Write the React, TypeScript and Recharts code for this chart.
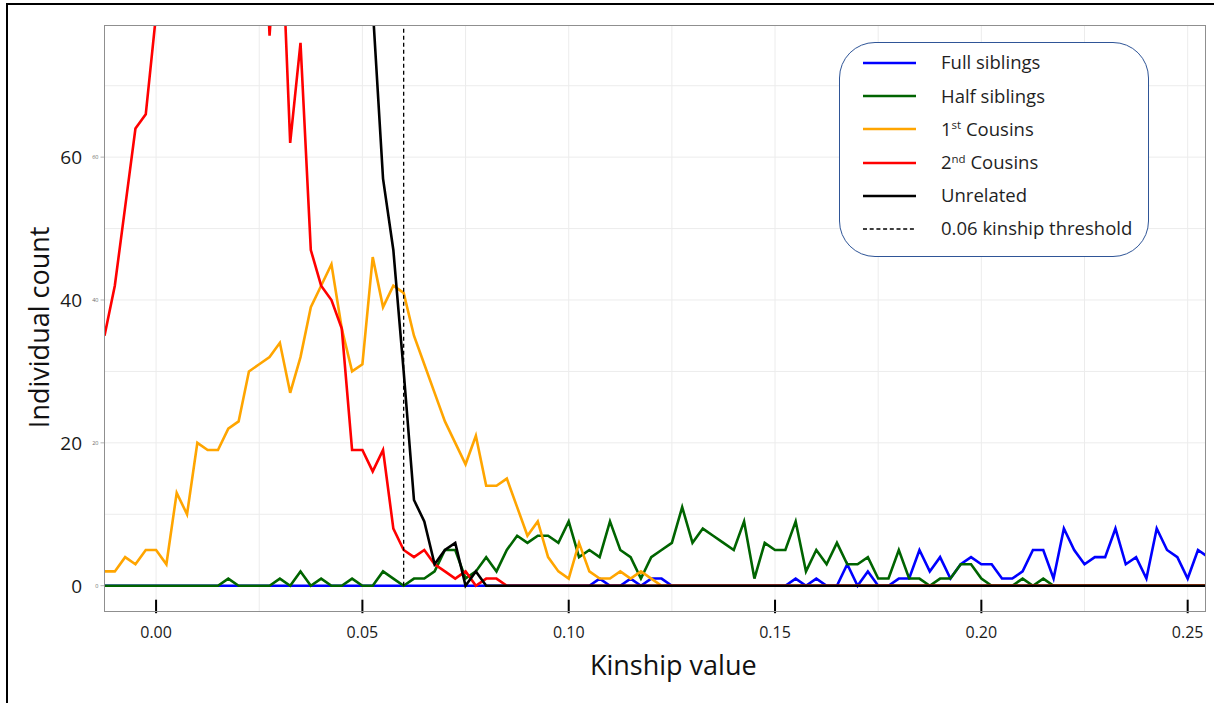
import React from 'react';
import { LineChart, Line, XAxis, YAxis, CartesianGrid, ReferenceLine, Legend } from 'recharts';

// Kinship bin centres
const kinship = [
  -0.0125, -0.01, -0.0075, -0.005, -0.0025, 0, 0.0025, 0.005, 0.0075, 0.01,
  0.0125, 0.015, 0.0175, 0.02, 0.0225, 0.025, 0.0275, 0.03, 0.0325, 0.035,
  0.0375, 0.04, 0.0425, 0.045, 0.0475, 0.05, 0.0525, 0.055, 0.0575, 0.06,
  0.0625, 0.065, 0.0675, 0.07, 0.0725, 0.075, 0.0775, 0.08, 0.0825, 0.085,
  0.0875, 0.09, 0.0925, 0.095, 0.0975, 0.1, 0.1025, 0.105, 0.1075, 0.11,
  0.1125, 0.115, 0.1175, 0.12, 0.1225, 0.125, 0.1275, 0.13, 0.1325, 0.135,
  0.1375, 0.14, 0.1425, 0.145, 0.1475, 0.15, 0.1525, 0.155, 0.1575, 0.16,
  0.1625, 0.165, 0.1675, 0.17, 0.1725, 0.175, 0.1775, 0.18, 0.1825, 0.185,
  0.1875, 0.19, 0.1925, 0.195, 0.1975, 0.2, 0.2025, 0.205, 0.2075, 0.21,
  0.2125, 0.215, 0.2175, 0.22, 0.2225, 0.225, 0.2275, 0.23, 0.2325, 0.235,
  0.2375, 0.24, 0.2425, 0.245, 0.2475, 0.25, 0.2525, 0.255,
];

const fullSiblings = [
  0, 0, 0, 0, 0, 0, 0, 0, 0, 0,
  0, 0, 0, 0, 0, 0, 0, 0, 0, 0,
  0, 0, 0, 0, 0, 0, 0, 0, 0, 0,
  0, 0, 0, 0, 0, 0, 0, 0, 0, 0,
  0, 0, 0, 0, 0, 0, 0, 0, 1, 0,
  0, 1, 0, 1, 1, 0, 0, 0, 0, 0,
  0, 0, 0, 0, 0, 0, 0, 1, 0, 1,
  0, 0, 3, 0, 2, 0, 0, 1, 1, 5,
  2, 4, 1, 3, 4, 3, 3, 1, 1, 2,
  5, 5, 1, 8, 5, 3, 4, 4, 8, 3,
  4, 1, 8, 5, 4, 1, 5, 4,
];

const halfSiblings = [
  0, 0, 0, 0, 0, 0, 0, 0, 0, 0,
  0, 0, 1, 0, 0, 0, 0, 1, 0, 2,
  0, 1, 0, 0, 1, 0, 0, 2, 1, 0,
  1, 1, 2, 5, 5, 1, 2, 4, 2, 5,
  7, 6, 7, 7, 6, 9, 4, 5, 4, 9,
  5, 4, 1, 4, 5, 6, 11, 6, 8, 7,
  6, 5, 9, 1, 6, 5, 5, 9, 2, 5,
  3, 6, 3, 3, 4, 1, 1, 5, 1, 1,
  0, 1, 1, 3, 3, 1, 0, 0, 0, 1,
  0, 1, 0, 0, 0, 0, 0, 0, 0, 0,
  0, 0, 0, 0, 0, 0, 0, 0,
];

const firstCousins = [
  2, 2, 4, 3, 5, 5, 3, 13, 10, 20,
  19, 19, 22, 23, 30, 31, 32, 34, 27, 32,
  39, 42, 45, 36, 30, 31, 46, 39, 42, 41,
  35, 31, 27, 23, 20, 17, 21, 14, 14, 15,
  11, 7, 9, 4, 2, 1, 6, 2, 1, 1,
  2, 1, 2, 1, 0, 0, 0, 0, 0, 0,
  0, 0, 0, 0, 0, 0, 0, 0, 0, 0,
  0, 0, 0, 0, 0, 0, 0, 0, 0, 0,
  0, 0, 0, 0, 0, 0, 0, 0, 0, 0,
  0, 0, 0, 0, 0, 0, 0, 0, 0, 0,
  0, 0, 0, 0, 0, 0, 0, 0,
];

const secondCousins = [
  35, 42, 53, 64, 66, 80, 95, 112, 128, 140,
  146, 143, 135, 122, 108, 110, 77, 98, 62, 76,
  47, 42, 40, 36, 19, 19, 16, 19, 8, 5,
  4, 5, 3, 2, 1, 2, 0, 1, 1, 0,
  0, 0, 0, 0, 0, 0, 0, 0, 0, 0,
  0, 0, 0, 0, 0, 0, 0, 0, 0, 0,
  0, 0, 0, 0, 0, 0, 0, 0, 0, 0,
  0, 0, 0, 0, 0, 0, 0, 0, 0, 0,
  0, 0, 0, 0, 0, 0, 0, 0, 0, 0,
  0, 0, 0, 0, 0, 0, 0, 0, 0, 0,
  0, 0, 0, 0, 0, 0, 0, 0,
];

const unrelated = [
  150, 190, 240, 300, 360, 410, 440, 455, 450, 430,
  400, 370, 335, 300, 265, 235, 205, 180, 160, 145,
  130, 118, 108, 100, 95, 90, 81, 57, 47, 30,
  12, 9, 3, 5, 6, 0, 2, 0, 0, 0,
  0, 0, 0, 0, 0, 0, 0, 0, 0, 0,
  0, 0, 0, 0, 0, 0, 0, 0, 0, 0,
  0, 0, 0, 0, 0, 0, 0, 0, 0, 0,
  0, 0, 0, 0, 0, 0, 0, 0, 0, 0,
  0, 0, 0, 0, 0, 0, 0, 0, 0, 0,
  0, 0, 0, 0, 0, 0, 0, 0, 0, 0,
  0, 0, 0, 0, 0, 0, 0, 0,
];

const xTicks = [0, 0.025, 0.05, 0.075, 0.1, 0.125, 0.15, 0.175, 0.2, 0.225, 0.25];
const xLabelTicks = [0, 0.05, 0.1, 0.15, 0.2, 0.25];
const yTicks = [0, 10, 20, 30, 40, 50, 60, 70];
const yLabelTicks = [0, 20, 40, 60];
const xDomain = [-0.0125, 0.2542];
const yDomain = [-3.64, 78.5];
const threshold = 0.06;

const series = [
  { key: 'full', name: 'Full siblings', sup: '', rest: '', color: '#0000FF', values: fullSiblings },
  { key: 'half', name: 'Half siblings', sup: '', rest: '', color: '#006400', values: halfSiblings },
  { key: 'first', name: '1', sup: 'st', rest: ' Cousins', color: '#FFA500', values: firstCousins },
  { key: 'second', name: '2', sup: 'nd', rest: ' Cousins', color: '#FF0000', values: secondCousins },
  { key: 'unrel', name: 'Unrelated', sup: '', rest: '', color: '#000000', values: unrelated },
];

const data = kinship.map((k, i) => {
  const row: any = { k };
  series.forEach((s) => { row[s.key] = s.values[i]; });
  return row;
});

const FONT = '"Open Sans", "Noto Sans", sans-serif';

const XTick = (props: any) => {
  const { x, y, payload } = props;
  const v = payload.value;
  const labeled = xLabelTicks.some((t) => Math.abs(t - v) < 1e-9);
  if (!labeled) return <g />;
  return (
    <g>
      <rect x={x - 1} y={y - 12} width={2} height={13.5} fill="#000" />
      <text x={x} y={y + 26} textAnchor="middle" fontSize={16} fill="#1a1a1a" fontFamily={FONT}>
        {v.toFixed(2)}
      </text>
    </g>
  );
};

const YTick = (props: any) => {
  const { x, y, payload } = props;
  const v = payload.value;
  if (!yLabelTicks.includes(v)) return <g />;
  return (
    <g>
      <line x1={x - 4} x2={x} y1={y} y2={y} stroke="#a0a0a0" strokeWidth={0.8} />
      <text x={x - 6} y={y + 2} textAnchor="end" fontSize={5.5} fill="#6b6b6b" fontFamily={FONT}>
        {v}
      </text>
      <text x={x - 22.5} y={y + 7} textAnchor="end" fontSize={19} fill="#1a1a1a" fontFamily={FONT}>
        {v}
      </text>
    </g>
  );
};

const YTitle = (props: any) => {
  const vb = props.viewBox || { x: 4.5, y: 25, width: 100, height: 586.7 };
  const cx = vb.x + 45;
  const cy = vb.y + vb.height / 2 + 9;
  return (
    <text x={cx} y={cy} transform={`rotate(-90, ${cx}, ${cy})`} textAnchor="middle" fontSize={27} fill="#111" fontFamily={FONT}>
      Individual count
    </text>
  );
};

const XTitle = (props: any) => {
  const vb = props.viewBox || { x: 104.5, y: 611.7, width: 1100.5, height: 60 };
  return (
    <text x={vb.x + vb.width / 2 + 18.5} y={vb.y + 63} textAnchor="middle" fontSize={27} fill="#111" fontFamily={FONT}>
      Kinship value
    </text>
  );
};

const renderLegend = () => {
  const rows = [
    ...series.map((s) => ({ key: s.key, color: s.color, dashed: false, name: s.name, sup: s.sup, rest: s.rest })),
    { key: 'thr', color: '#000', dashed: true, name: '0.06 kinship threshold', sup: '', rest: '' },
  ];
  return (
    <div
      style={{
        width: 310,
        height: 215,
        boxSizing: 'border-box',
        border: '1.6px solid #2F5597',
        borderRadius: 36,
        background: '#fff',
        paddingTop: 3.4,
        fontFamily: FONT,
        fontSize: 18.5,
        color: '#1f1f1f',
      }}
    >
      {rows.map((r) => (
        <div key={r.key} style={{ height: 33.2, display: 'flex', alignItems: 'center', position: 'relative' }}>
          <svg width={60} height={10} style={{ position: 'absolute', left: 22, top: 11.6 }}>
            <line
              x1={1}
              x2={54}
              y1={5}
              y2={5}
              stroke={r.color}
              strokeWidth={r.dashed ? 1.3 : 2.6}
              strokeDasharray={r.dashed ? '4 2.7' : undefined}
            />
          </svg>
          <span style={{ position: 'absolute', left: 101, whiteSpace: 'nowrap', lineHeight: '33.2px', top: -1 }}>
            {r.name}
            {r.sup ? (
              <span style={{ fontSize: '0.62em', position: 'relative', top: '-0.55em' }}>{r.sup}</span>
            ) : null}
            {r.rest}
          </span>
        </div>
      ))}
    </div>
  );
};

export default function App() {
  return (
    <div style={{ position: 'absolute', left: 0, top: 0, width: 1214, height: 703, background: '#fff', overflow: 'hidden' }}>
      <LineChart
        width={1214}
        height={703}
        data={data}
        margin={{ top: 25, right: 9, bottom: 31.3, left: 4.5 }}
      >
        <CartesianGrid stroke="#ececec" strokeWidth={1} horizontalValues={yTicks} verticalValues={xTicks} />
        <XAxis
          dataKey="k"
          type="number"
          domain={xDomain}
          allowDataOverflow
          ticks={xTicks}
          interval={0}
          height={60}
          tickSize={0}
          tickMargin={0}
          axisLine={false}
          tickLine={false}
          tick={<XTick />}
          label={<XTitle />}
        />
        <YAxis
          type="number"
          domain={yDomain}
          allowDataOverflow
          ticks={yTicks}
          interval={0}
          width={100}
          tickSize={0}
          tickMargin={0}
          axisLine={false}
          tickLine={false}
          tick={<YTick />}
          label={<YTitle />}
        />
        {series.map((s) => (
          <Line
            key={s.key}
            dataKey={s.key}
            name={s.name}
            type="linear"
            stroke={s.color}
            strokeWidth={2.6}
            dot={false}
            activeDot={false}
            isAnimationActive={false}
          />
        ))}
        <ReferenceLine
          segment={[{ x: threshold, y: 0 }, { x: threshold, y: yDomain[1] }]}
          stroke="#000"
          strokeWidth={1.3}
          strokeDasharray="4 3"
        />
        <Legend
          layout="vertical"
          align="center"
          verticalAlign="middle"
          content={renderLegend}
          wrapperStyle={{ left: 839, top: 42, width: 310, height: 215 }}
        />
      </LineChart>
      <div
        style={{
          position: 'absolute',
          left: 104,
          top: 24.5,
          width: 1101.5,
          height: 587.7,
          boxSizing: 'border-box',
          border: '1.2px solid #8f8f8f',
          pointerEvents: 'none',
        }}
      />
      <div
        style={{
          position: 'absolute',
          left: 6,
          top: 3,
          width: 1214,
          height: 703,
          borderLeft: '2px solid #000',
          borderTop: '2px solid #000',
          pointerEvents: 'none',
        }}
      />
    </div>
  );
}
